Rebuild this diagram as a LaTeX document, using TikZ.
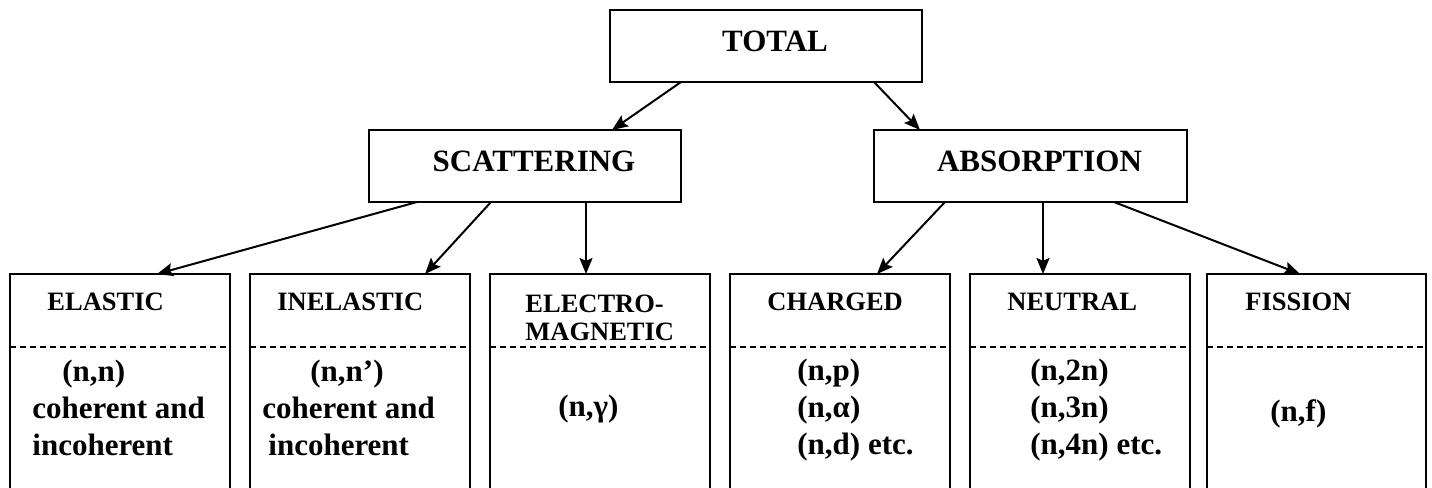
\documentclass[tikz,border=0pt]{standalone}
\usepackage{fontspec}
\setmainfont{Liberation Serif}
\usetikzlibrary{positioning, arrows.meta, calc}

\newcommand\headfont{\fontsize{15.5pt}{18.5pt}\selectfont\bfseries}
\newcommand\leaffont{\fontsize{13.25pt}{14pt}\selectfont\bfseries}

\begin{document}
\begin{tikzpicture}[
  >={Stealth[length=8pt, width=6.5pt, inset=1.4pt]},
  every node/.style={font=\headfont},
  box/.style  = {draw, line width=0.65pt, minimum width=156pt, minimum height=36pt, inner sep=0pt, outer sep=0pt, text depth=5pt},
  leaf/.style = {draw, line width=0.65pt, minimum width=110pt, minimum height=120pt, inner sep=0pt, outer sep=0pt, anchor=north west},
  head/.style = {font=\leaffont, inner sep=0pt, anchor=base west, align=left},
  body/.style = {font=\headfont, inner sep=0pt, anchor=base west, align=left},
  arr/.style  = {->, line width=1pt},
  cut/.style  = {dash pattern=on 3pt off 2pt, line width=0.6pt},
]
  \useasboundingbox (0,0) rectangle (716pt,-244pt);
  % upper levels
  \node[box] (total) at (383pt,-23pt) {\hspace{9pt}TOTAL};
  \node[box, below=24pt of total, xshift=-120.5pt] (scat) {\hspace{9pt}SCATTERING};
  \node[box, below=24pt of total, xshift=132.25pt, minimum width=156.5pt] (abs) {\hspace{9pt}ABSORPTION};
  % reaction boxes
  \node[leaf] (el) at (5pt,-137pt) {};
  \node[leaf, right=10pt of el]   (inel) {};
  \node[leaf, right=10pt of inel] (em) {};
  \node[leaf, right=10pt of em]   (ch) {};
  \node[leaf, right=10pt of ch]   (neu) {};
  \node[leaf, right=8.5pt of neu, minimum width=109.5pt] (fis) {};
  \foreach \n in {el,inel,em,ch,neu,fis}
    \draw[cut] ([yshift=-36.5pt]\n.north west) -- ([yshift=-36.5pt]\n.north east);
  \node[head] (elh)   at ([xshift=18.5pt, yshift=-18pt]el.north west)   {ELASTIC};
  \node[head] (inelh) at ([xshift=13.5pt, yshift=-18pt]inel.north west) {INELASTIC};
  \node[head] (emh)   at ([xshift=17.5pt, yshift=-33pt]em.north west)   {ELECTRO-\\MAGNETIC};
  \node[head] (chh)   at ([xshift=18.5pt, yshift=-18pt]ch.north west)   {CHARGED};
  \node[head] (neuh)  at ([xshift=18.5pt, yshift=-18pt]neu.north west)  {NEUTRAL};
  \node[head] (fish)  at ([xshift=19pt, yshift=-18pt]fis.north west)    {FISSION};
  \node[body] (elb)   at ([xshift=11pt, yshift=-90.5pt]el.north west)   {\hspace{15pt}(n,n)\\coherent and\\incoherent};
  \node[body] (inelb) at ([xshift=6pt, yshift=-90.5pt]inel.north west)  {\hspace{24pt}(n,n’)\\coherent and\\\hspace{3pt}incoherent};
  \node[body] (emb)   at ([xshift=34pt, yshift=-71pt]em.north west)     {(n,γ)};
  \node[body] (chb)   at ([xshift=33.5pt, yshift=-90pt]ch.north west)   {(n,p)\\(n,α)\\(n,d) etc.};
  \node[body] (neub)  at ([xshift=30pt, yshift=-90pt]neu.north west)    {(n,2n)\\(n,3n)\\(n,4n) etc.};
  \node[body] (fisb)  at ([xshift=31.5pt, yshift=-73.5pt]fis.north west) {(n,f)};
  % arrows
  \foreach \a/\da/\b/\db in {total/-42.5pt/scat/43.5pt, total/54pt/abs/-55.25pt,
      scat/-54pt/el/18.5pt, scat/-17pt/inel/32.5pt, scat/30.5pt/em/-7pt,
      abs/-42.75pt/ch/18.5pt, abs/6.25pt/neu/-18.5pt, abs/41.75pt/fis/-8.25pt}
    \draw[arr] ([xshift=\da]\a.south) -- ([xshift=\db]\b.north);
\end{tikzpicture}
\end{document}
